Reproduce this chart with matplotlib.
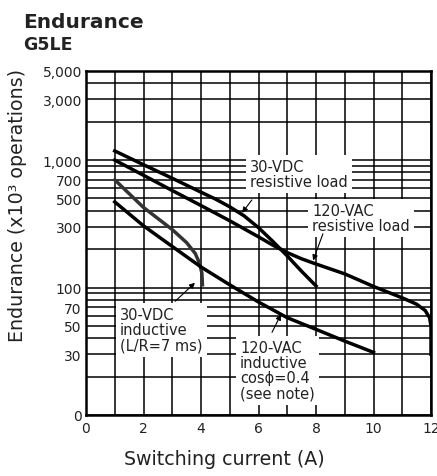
import matplotlib
matplotlib.use("Agg")
import matplotlib.pyplot as plt
from matplotlib.ticker import NullFormatter

# curves (x = switching current A, y = endurance x10^3 ops)
vdc_res_x = [1, 2, 3, 4, 4.5, 5, 5.5, 6, 6.5, 7, 7.5, 8]
vdc_res_y = [1180, 920, 720, 560, 495, 430, 365, 295, 230, 177, 134, 103]

vac_res_x = [1, 2, 3, 4, 5, 6, 6.5, 7, 7.5, 8, 9, 10, 11, 11.5, 11.8, 11.95, 12, 12]
vac_res_y = [1000, 760, 577, 440, 334, 250, 215, 188, 168, 153, 128, 102, 83, 74, 66, 58, 50, 30]

vdc_ind_x = [1, 2, 3, 3.5, 3.8, 3.95, 4.03, 4.05]
vdc_ind_y = [700, 425, 285, 225, 185, 155, 130, 105]

vac_ind_x = [1, 2, 3, 4, 5, 6, 7, 8, 9, 10]
vac_ind_y = [470, 305, 210, 145, 105, 77, 58, 47, 38, 31]

y_ticks = [10, 30, 50, 70, 100, 300, 500, 700, 1000, 3000, 5000]
y_labels = ["0", "30", "50", "70", "100", "300", "500", "700", "1,000", "3,000", "5,000"]
y_minor = [20, 40, 60, 80, 90, 200, 400, 600, 800, 900, 2000, 4000]
x_ticks = [0, 2, 4, 6, 8, 10, 12]
x_minor = [1, 3, 5, 7, 9, 11]

fig = plt.figure(figsize=(4.37, 4.77), dpi=100)
ax = fig.add_axes([86/437, 61/477, 345/437, 344/477])

ax.set_yscale("log")
ax.set_xlim(0, 12)
ax.set_ylim(10, 5000)

ax.set_yticks(y_ticks)
ax.set_yticklabels(y_labels)
ax.set_yticks(y_minor, minor=True)
ax.yaxis.set_minor_formatter(NullFormatter())
ax.set_xticks(x_ticks)
ax.set_xticks(x_minor, minor=True)
ax.tick_params(which="both", length=0, labelsize=10, colors="#222222")
ax.tick_params(axis="y", pad=3)
ax.tick_params(axis="x", pad=4)
ax.grid(which="both", color="k", lw=1.1)
ax.set_axisbelow(True)
for s in ax.spines.values():
    s.set_linewidth(1.8)

ax.plot(vdc_res_x, vdc_res_y, c="k", lw=2.5, zorder=3)
ax.plot(vac_res_x, vac_res_y, c="k", lw=2.5, zorder=3)
ax.plot(vdc_ind_x, vdc_ind_y, c="#333333", lw=2.5, zorder=3)
ax.plot(vac_ind_x, vac_ind_y, c="k", lw=2.5, zorder=3)

box = dict(boxstyle="square,pad=0.3", facecolor="white", edgecolor="none")
arr = dict(arrowstyle="-|>", color="k", lw=0.8, mutation_scale=8, shrinkA=0, shrinkB=0)
tk = dict(fontsize=10.5, ha="left", va="top", linespacing=1.0, bbox=box, zorder=4, color="#222222")

ax.text(5.7, 1020, "30-VDC\nresistive load", **tk)
ax.text(7.86, 461, "120-VAC\nresistive load", **tk)
ax.text(1.18, 70, "30-VDC\ninductive\n(L/R=7 ms)", **tk)
ax.text(5.36, 38.5, "120-VAC\ninductive\ncos\u03d5=0.4\n(see note)", **tk)

ax.annotate("", xy=(5.43, 386), xytext=(5.77, 487), arrowprops=arr, zorder=5)
ax.annotate("", xy=(7.9, 163), xytext=(8.24, 264), arrowprops=arr, zorder=5)
ax.annotate("", xy=(3.79, 109), xytext=(3.10, 78), arrowprops=arr, zorder=5)
ax.annotate("", xy=(6.78, 61.5), xytext=(6.47, 44.5), arrowprops=arr, zorder=5)

fig.text(23/437, 1 - 28/477, "Endurance", fontsize=14.5, fontweight="bold", color="#222222")
fig.text(23/437, 1 - 50/477, "G5LE", fontsize=12.5, fontweight="bold", color="#222222")
fig.text(224/437, 1 - 460/477, "Switching current (A)", fontsize=13.7,
         ha="center", va="center", color="#222222")
fig.text(18/437, 1 - 205/477, "Endurance (x10\u00b3 operations)", fontsize=13.7,
         rotation=90, ha="center", va="center", color="#222222")

fig.savefig("out.png", dpi=100)
